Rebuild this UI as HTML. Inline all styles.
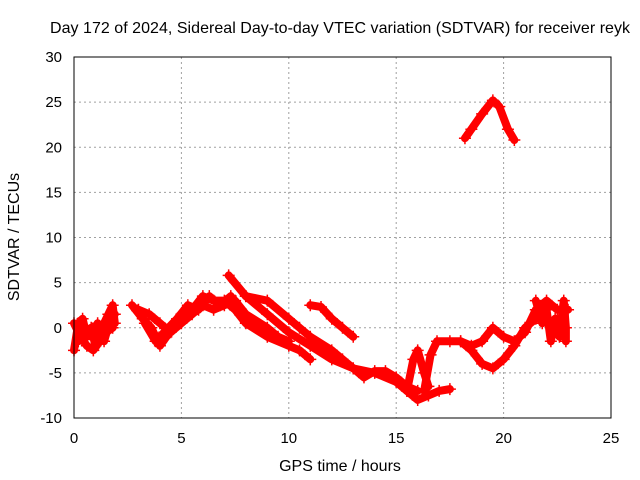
<!DOCTYPE html>
<html><head><meta charset="utf-8"><style>
body{margin:0;background:#fff}
svg{display:block;font-family:"Liberation Sans",sans-serif;font-size:15px}
</style></head><body>
<svg width="640" height="480" id="chart">
<rect width="640" height="480" fill="#fff"/>
<g id="grid"></g>
<g id="series"></g>
<rect x="74" y="57" width="537" height="361" fill="none" stroke="#000" stroke-width="1"/>
<g id="ticks"></g>
<text x="340" y="33" text-anchor="middle" font-size="16" textLength="580">Day 172 of 2024, Sidereal Day-to-day VTEC variation (SDTVAR) for receiver reyk</text>
<text x="340" y="471" text-anchor="middle" font-size="16">GPS time / hours</text>
<text transform="translate(19,237) rotate(-90)" text-anchor="middle" font-size="16">SDTVAR / TECUs</text>
</svg>
<script>
const xTicks=[0,5,10,15,20,25];
const yTicks=[-10,-5,0,5,10,15,20,25,30];
const traceA=[[0,-2.5],[0.2,0.5],[0.4,1],[0.6,-1],[0.8,0],[1.0,-2],[1.2,-1],[1.4,0.5],[1.6,1.5],[1.8,2.5],[1.9,0.5]];
const traceA2=[[0,0.5],[0.3,-1],[0.6,-2],[0.9,-2.5],[1.2,-1.5],[1.5,-0.5],[1.8,0]];
const traceA3=[[0.2,-1.5],[0.5,0],[0.8,-1],[1.1,0.5],[1.4,-1.5],[1.7,1],[1.9,1.5]];
const traceB=[[2.7,2.5],[3.2,1],[3.6,0],[4.0,-2],[4.3,-1],[4.6,0],[5,1.5],[5.5,2],[6,3.5],[6.5,3],[7,3],[7.5,2],[8,0.5],[9,-1],[10,-2],[10.5,-2.5],[11,-3.5]];
const traceB2=[[3,2],[3.5,1.5],[4,0.5],[4.5,-0.5],[5,0.5],[5.5,1.5],[6,2.5],[6.5,2],[7,2.5],[7.5,3],[8,1.5],[9,0],[9.5,-1],[10,-1.5]];
const traceB3=[[3.3,0.5],[3.8,-1.5],[4.2,-0.5],[4.8,1],[5.3,2.5],[5.8,2],[6.3,3.5],[6.8,2.5],[7.3,3.5]];
const traceC=[[7.2,5.8],[8,3.5],[9,1.5],[10,-0.5],[11,-2],[12,-3.5],[13,-4.5],[14,-5],[15,-6],[15.5,-7],[16,-8],[16.5,-7.5],[17,-7],[17.5,-6.8]];
const traceD=[[11,2.5],[11.5,2.3],[12,1],[12.5,0],[13,-1]];
const traceE=[[8,3.5],[9,3],[10,1],[10.5,0],[11,-1],[12,-2.5],[12.5,-3.5],[13,-4.5],[13.5,-5.5],[14,-4.8],[14.5,-4.8],[15,-5.5],[15.5,-6.5],[16,-7]];
const traceF=[[15.5,-7],[15.8,-3.5],[16,-2.5],[16.3,-5],[16.5,-6.5]];
const traceG=[[16.3,-7],[16.6,-3],[16.9,-1.5],[17.5,-1.5],[18,-1.5],[18.5,-2],[19,-1.5],[19.5,0],[20,-1],[20.5,-1.5],[21,-0.5],[21.5,2],[22,3],[22.5,2],[23,2]];
const traceH=[[18,-1.5],[18.5,-2.5],[19,-4],[19.5,-4.5],[20,-3.5],[20.5,-2],[21,0],[21.5,1]];
const traceHigh=[[18.2,21],[18.5,22],[19,23.7],[19.5,25.2],[19.8,24.5],[20.2,22],[20.5,20.8]];
const traceR=[[21.5,3],[21.8,0.5],[22,2],[22.2,-1.5],[22.4,1],[22.6,-1],[22.8,3],[22.9,0],[22.9,-1.5]];
const traces=[traceA,traceA2,traceA3,traceB,traceB2,traceB3,traceC,traceD,traceE,traceF,traceG,traceH,traceHigh,traceR];
const NS='http://www.w3.org/2000/svg';
const X=t=>74+t*537/25, Y=v=>418-(v+10)*361/40;
function mk(tag,attrs,parent){const e=document.createElementNS(NS,tag);for(const k in attrs)e.setAttribute(k,attrs[k]);parent.appendChild(e);return e;}
const grid=document.getElementById('grid'),ticks=document.getElementById('ticks'),ser=document.getElementById('series');
xTicks.forEach(t=>{
 if(t>0&&t<25){const l=mk('line',{x1:X(t),x2:X(t),y1:57,y2:418,stroke:'#a0a0a0','stroke-dasharray':'2,3'},grid);
 
 }
 const tx=mk('text',{x:X(t),y:443,'text-anchor':'middle'},ticks);tx.textContent=t;
 
 
});
yTicks.forEach(v=>{
 if(v>-10&&v<30){const l=mk('line',{x1:74,x2:611,y1:Y(v),y2:Y(v),stroke:'#a0a0a0','stroke-dasharray':'2,3'},grid);
 
 }
 const tx=mk('text',{x:62,y:Y(v)+5,'text-anchor':'end'},ticks);tx.textContent=v;
 
 
});
traces.forEach((tr,i)=>{
 const p=mk('polyline',{points:tr.map(d=>X(d[0])+','+Y(d[1])).join(' '),fill:'none',stroke:'#f00','stroke-width':8,'stroke-linejoin':'round','stroke-linecap':'round'},ser);
 
 
 tr.forEach(d=>{const m=mk('path',{d:`M${X(d[0])-6},${Y(d[1])}h12M${X(d[0])},${Y(d[1])-6}v12`,stroke:'#f00','stroke-width':1.5},ser);
  
  });
});
</script>
</body></html>
